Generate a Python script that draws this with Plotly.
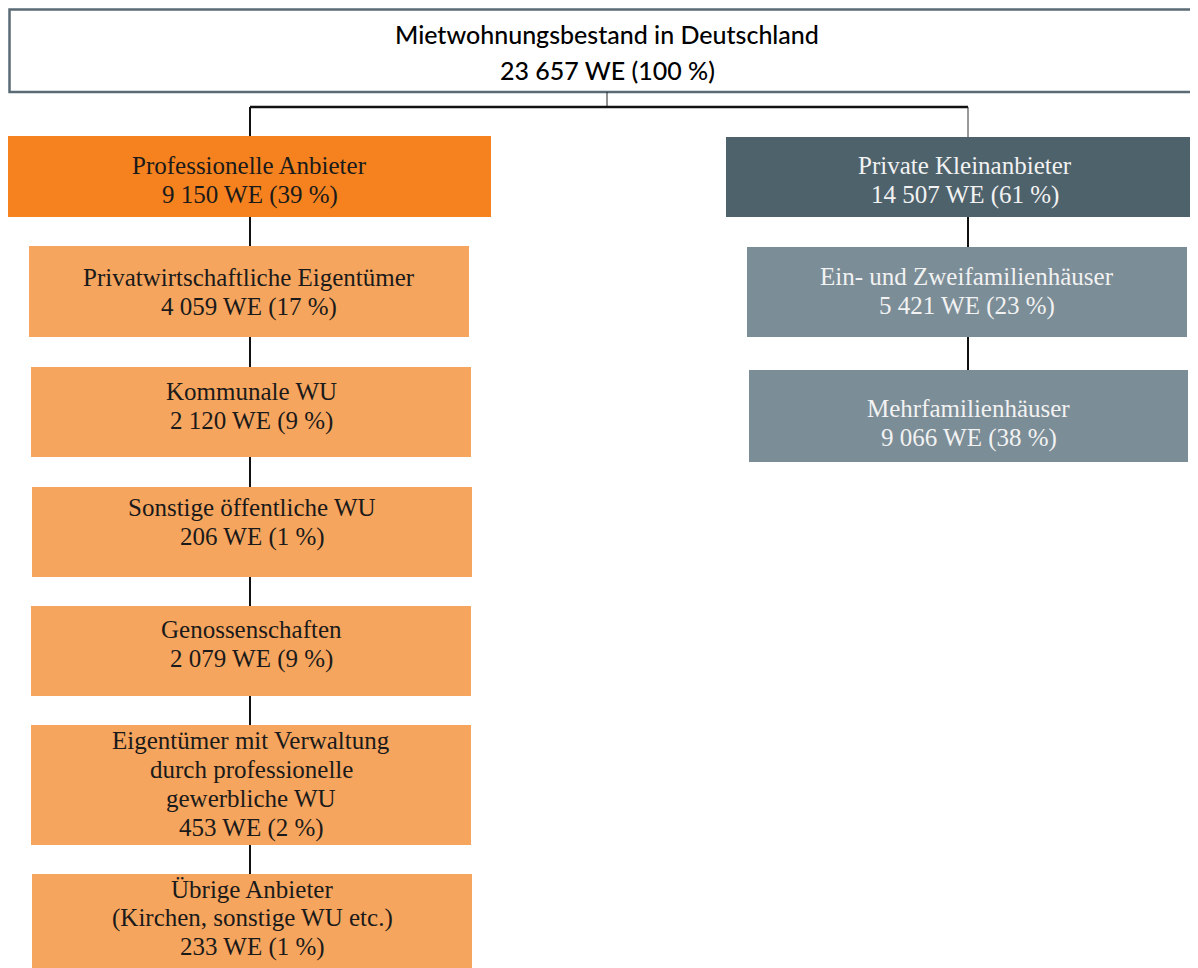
import plotly.graph_objects as go

# ---------------- data ----------------
node_names = [
    "Mietwohnungsbestand in Deutschland",
    "Professionelle Anbieter",
    "Private Kleinanbieter",
    "Privatwirtschaftliche Eigentümer",
    "Kommunale WU",
    "Sonstige öffentliche WU",
    "Genossenschaften",
    "Eigentümer mit Verwaltung<br>durch professionelle<br>gewerbliche WU",
    "Übrige Anbieter<br>(Kirchen, sonstige WU etc.)",
    "Ein- und Zweifamilienhäuser",
    "Mehrfamilienhäuser",
]
node_values = [23657, 9150, 14507, 4059, 2120, 206, 2079, 453, 233, 5421, 9066]
node_pct = [100, 39, 61, 17, 9, 1, 9, 2, 1, 23, 38]
node_parent = [None, 0, 0, 1, 3, 4, 5, 6, 7, 2, 9]  # chain of connectors

# ---------------- layout (pixel boxes: x0, x1, y0, y1, text centre y) ----------------
boxes = [
    (9.5, 1205, 9.5, 92, 52),
    (8, 491, 136, 217, 180),
    (726, 1205, 137, 217, 180),
    (29, 469, 246, 337, 292),
    (31, 471, 367, 457, 406),
    (32, 472, 487, 577, 522),
    (31, 471, 606, 696, 644),
    (31, 471, 725, 845, 784),
    (32, 472, 874, 975, 918),
    (747, 1187, 247, 337, 291),
    (749, 1188, 370, 462, 423),
]
fills = ["#ffffff", "#F5821F", "#4E626C"] + ["#F6A55E"] * 6 + ["#7B8D97"] * 2
text_colors = ["#000000", "#1a1a1a", "#f2f2f2"] + ["#1a1a1a"] * 6 + ["#f2f2f2"] * 2
branch_x = [250, 968]


def fmt(v):
    return f"{v:,}".replace(",", " ")


fig = go.Figure()
shapes = []
annotations = []

# connectors
shapes.append(dict(type="line", x0=607, x1=607, y0=92, y1=107, line=dict(color="#222", width=1)))
shapes.append(dict(type="line", x0=branch_x[0], x1=branch_x[1], y0=107, y1=107, line=dict(color="#111", width=2.5)))
shapes.append(dict(type="line", x0=branch_x[0], x1=branch_x[0], y0=107, y1=136, line=dict(color="#111", width=2)))
shapes.append(dict(type="line", x0=branch_x[1], x1=branch_x[1], y0=107, y1=137, line=dict(color="#333", width=1)))
for i, p in enumerate(node_parent):
    if p is None or p == 0:
        continue
    bx = branch_x[0] if boxes[i][0] < 600 else branch_x[1]
    shapes.append(dict(type="line", x0=bx, x1=bx, y0=boxes[p][3], y1=boxes[i][2],
                       line=dict(color="#111", width=2)))

# boxes and text
for i, name in enumerate(node_names):
    x0, x1, y0, y1, cy = boxes[i]
    if i == 0:
        shapes.append(dict(type="rect", x0=x0, x1=x1, y0=y0, y1=y1, fillcolor=fills[i],
                           line=dict(color="#5a6b75", width=2.5), layer="below"))
    else:
        shapes.append(dict(type="rect", x0=x0, x1=x1, y0=y0, y1=y1, fillcolor=fills[i],
                           line=dict(width=0), layer="below"))
    lines = name.split("<br>") + [f"{fmt(node_values[i])} WE ({node_pct[i]} %)"]
    if i == 0:
        spacing, family, size = 36, "Lato, Open Sans, sans-serif", 25
    else:
        spacing, family, size = 29, "Liberation Serif, DejaVu Serif, serif", 25
    n = len(lines)
    cx = (x0 + min(x1, 1198)) / 2 if i != 0 else 607
    if i == 2:
        cx = 965
    for k, ln in enumerate(lines):
        y = cy + (k - (n - 1) / 2) * spacing
        annotations.append(dict(x=cx, y=y, xref="x", yref="y", text=ln, showarrow=False,
                                xanchor="center", yanchor="middle",
                                font=dict(family=family, size=size, color=text_colors[i],
                                          weight=500 if i == 0 else 400)))

# page body has an 8px margin: map pixel coordinates so they land on the same screen pixels
fig.update_layout(
    width=1190, height=960,
    margin=dict(l=0, r=0, t=0, b=0),
    paper_bgcolor="white", plot_bgcolor="white",
    xaxis=dict(range=[8, 1198], visible=False, fixedrange=True),
    yaxis=dict(range=[968, 8], visible=False, fixedrange=True),
    shapes=shapes, annotations=annotations, showlegend=False,
)
fig.write_html("out.html")
